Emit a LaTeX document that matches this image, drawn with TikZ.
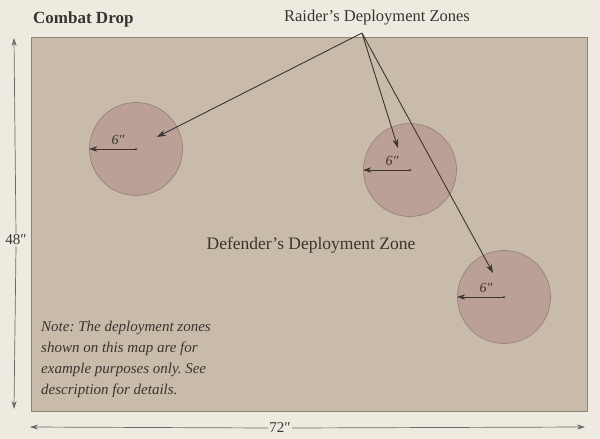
\documentclass[tikz,border=0pt]{standalone}
\usepackage{fontspec}
\setmainfont{Liberation Serif}
\usetikzlibrary{arrows.meta}
\definecolor{paper}{HTML}{EEEADF}
\definecolor{board}{HTML}{C9BBAA}
\definecolor{boardedge}{HTML}{8E857A}
\definecolor{zone}{HTML}{BBA098}
\definecolor{zoneedge}{HTML}{8F7F77}
\definecolor{ink}{HTML}{3A3430}
\newcommand{\inch}{″}
\frenchspacing
\tikzset{
  x=1pt,y=-1pt,
  zonecircle/.style={circle,draw=zoneedge,line width=0.6pt,fill=zone,minimum size=93pt,inner sep=0pt},
  pointer/.style={draw=ink,line width=0.9pt,-{Stealth[length=9pt,width=6pt]}},
  radarrow/.style={draw=ink,line width=0.8pt,-{Stealth[length=8pt,width=5.5pt]}},
  dimarrow/.style={draw=ink!75,line width=0.7pt,-{Stealth[length=8pt,width=5pt]}},
  lbl/.style={text=ink,inner sep=1pt,font=\fontsize{16.5}{18}\selectfont},
  centerdot/.style={circle,fill=ink!80,inner sep=0pt,minimum size=3pt}
}
\begin{document}
\begin{tikzpicture}
\useasboundingbox (0,0) rectangle (600,439);
\fill[paper] (0,0) rectangle (600,439);
\node[draw=boardedge,line width=1pt,fill=board,minimum width=556pt,minimum height=374pt,inner sep=0pt] (board) at (309,224) {};
\node[lbl,font=\bfseries\fontsize{17}{19}\selectfont,anchor=west] (title) at (32,19) {Combat Drop};
\node[lbl] (raider) at (377,18) {Raider's Deployment Zones};
\node[lbl,font=\fontsize{17.5}{19}\selectfont] (defender) at (311,245) {Defender's Deployment Zone};
\node[lbl,font=\itshape\fontsize{15}{21}\selectfont,align=left,anchor=north west] (note) at (40,320) {Note: The deployment zones\\shown on this map are for\\example purposes only. See\\description for details.};
\node[zonecircle] (c1) at (136,149) {};
\node[zonecircle] (c2) at (410,170) {};
\node[zonecircle] (c3) at (504,297) {};
\foreach \c in {c1,c2,c3}{
  \node[centerdot] (\c dot) at (\c.center) {};
  \draw[radarrow] (\c.center) -- (\c.west);
  \node[lbl,font=\itshape\fontsize{14}{16}\selectfont] (\c lab) at ([xshift=-18pt,yshift=9pt]\c.center) {6\inch};
}
\coordinate (apex) at (362,33);
\coordinate (t1) at (157,137);
\coordinate (t2) at (398,148);
\coordinate (t3) at (493,273);
\draw[pointer] (apex) -- (t1);
\draw[pointer] (apex) -- (t2);
\draw[pointer] (apex) -- (t3);
\coordinate (vtop) at (14,38);
\coordinate (vbot) at (14,409);
\node[lbl,font=\fontsize{15}{17}\selectfont] (h48) at (16,240) {48\inch};
\draw[dimarrow] (h48.north) -- (vtop);
\draw[dimarrow] (h48.south) -- (vbot);
\coordinate (hl) at (30,427);
\coordinate (hr) at (585,427);
\node[lbl,font=\fontsize{15}{17}\selectfont] (w72) at (280,428) {72\inch};
\draw[dimarrow] (w72.west) -- (hl);
\draw[dimarrow] (w72.east) -- (hr);
\end{tikzpicture}
\end{document}
